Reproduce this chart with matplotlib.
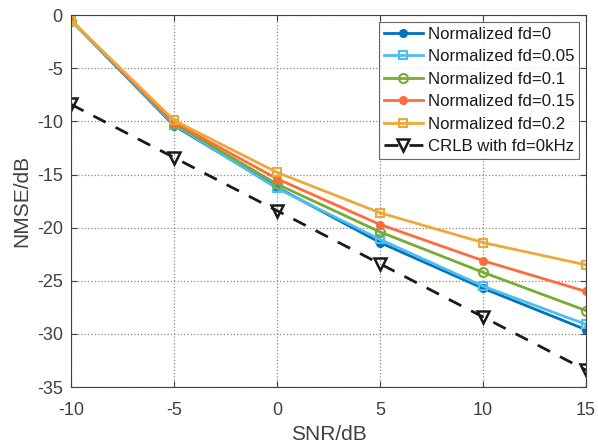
import matplotlib
matplotlib.use("Agg")
import matplotlib.pyplot as plt

plt.rcParams['font.family'] = ['Liberation Sans', 'DejaVu Sans']
plt.rcParams['axes.unicode_minus'] = False

snr = [-10, -5, 0, 5, 10, 15]
fd0 = [-0.5, -10.4, -16.2, -21.4, -25.7, -29.6]
fd005 = [-0.5, -10.3, -16.3, -21.1, -25.5, -29.1]
fd01 = [-0.5, -10.2, -15.9, -20.4, -24.2, -27.8]
fd015 = [-0.5, -10.1, -15.4, -19.7, -23.1, -26.0]
fd02 = [-0.5, -9.9, -14.8, -18.6, -21.4, -23.5]
crlb = [-8.4, -13.4, -18.4, -23.4, -28.4, -33.4]

labels = ['Normalized fd=0', 'Normalized fd=0.05', 'Normalized fd=0.1',
          'Normalized fd=0.15', 'Normalized fd=0.2', 'CRLB with fd=0kHz']

fig = plt.figure(figsize=(5.98, 4.47), dpi=100)
ax = fig.add_axes([0.119, 0.134, 0.861, 0.832])

lw = 2.0
txt = '#404040'
ax.plot(snr, fd0, color='#0072BD', lw=lw, marker='o', ms=5.5, mfc='#0072BD', label=labels[0])
ax.plot(snr, fd005, color='#4DBEEE', lw=lw, marker='s', ms=6, mfc='none', mew=1.5, label=labels[1])
ax.plot(snr, fd01, color='#77AC30', lw=lw, marker='o', ms=6.5, mfc='none', mew=1.5, label=labels[2])
ax.plot(snr, fd015, color='#FF6B3D', lw=lw, marker='o', ms=5.5, mfc='#FF6B3D', label=labels[3])
ax.plot(snr, fd02, color='#EDA835', lw=lw, marker='s', ms=6, mfc='none', mew=1.5, label=labels[4])
ax.plot(snr, crlb, color='#1a1a1a', lw=lw, ls=(0, (5, 4)), marker='v', ms=8, mfc='none', mew=1.8, label=labels[5])

ax.set_xlim(-10, 15)
ax.set_ylim(-35, 0)
ax.set_xticks(snr)
ax.set_yticks([0, -5, -10, -15, -20, -25, -30, -35])
ax.grid(True, ls=':', color='#888888', lw=0.9)
ax.tick_params(direction='in', top=True, right=True, labelsize=13, colors=txt, length=4, pad=6)
ax.tick_params(axis='x', pad=11)
for s in ax.spines.values():
    s.set_color(txt)
    s.set_linewidth(0.8)
ax.set_xlabel('SNR/dB', fontsize=15, color=txt, labelpad=4)
ax.set_ylabel('NMSE/dB', fontsize=15, color=txt, labelpad=4)

leg = ax.legend(loc='upper right', fontsize=12.1, frameon=True, fancybox=False,
                edgecolor=txt, borderpad=0.3, labelspacing=0.44, handlelength=2.3,
                handletextpad=0.3, borderaxespad=0.4)
leg.get_frame().set_linewidth(0.8)
for t in leg.get_texts():
    t.set_color('#1a1a1a')

fig.savefig('out.png', dpi=100)
